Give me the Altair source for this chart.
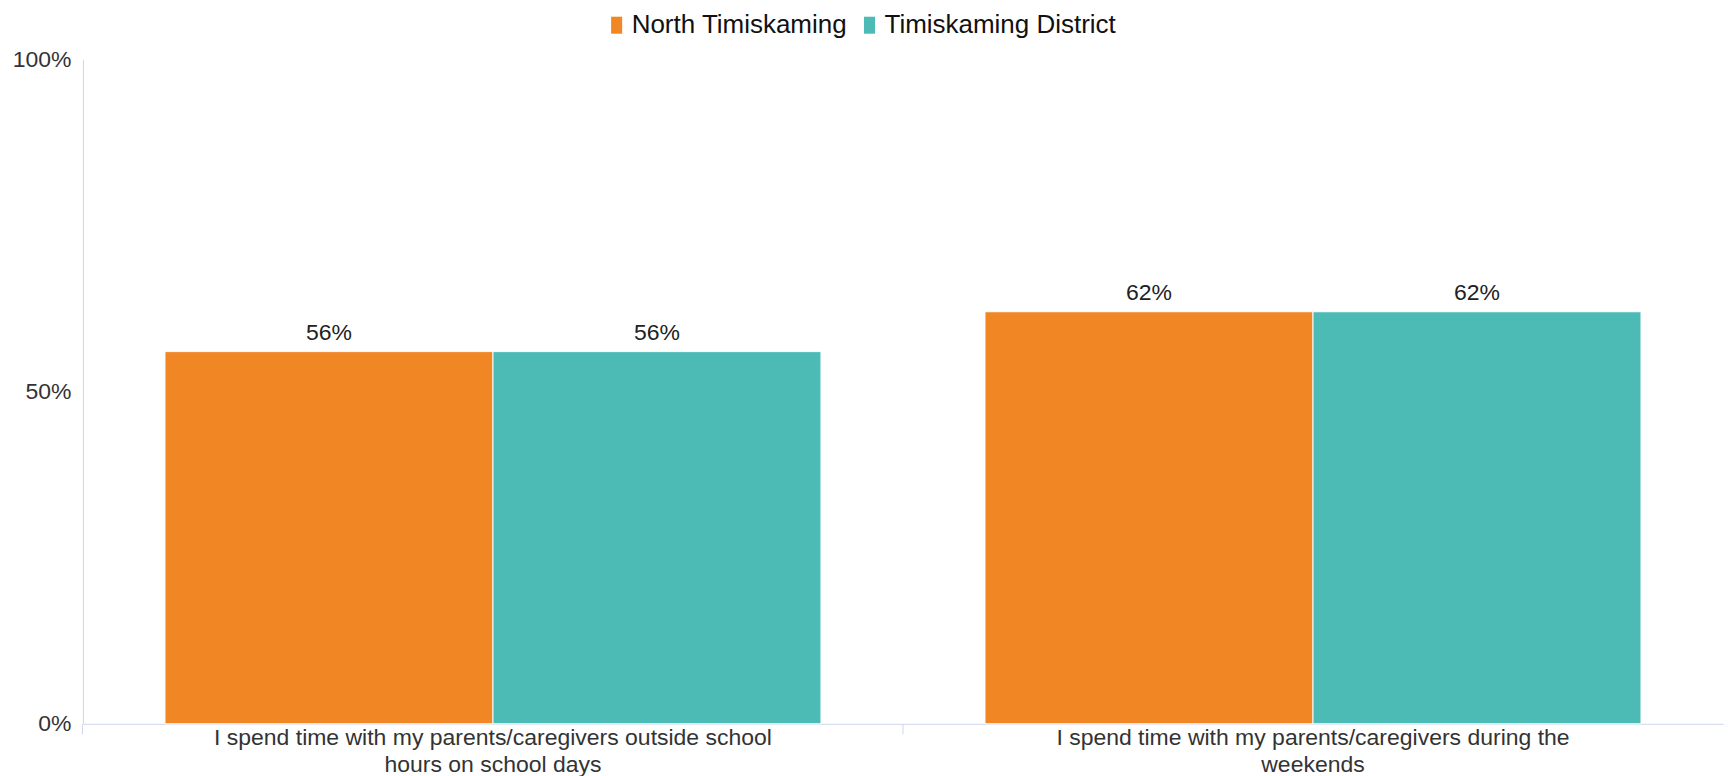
import altair as alt
import pandas as pd

categories = [
    "I spend time with my parents/caregivers outside school\nhours on school days",
    "I spend time with my parents/caregivers during the\nweekends",
]
series = ["North Timiskaming", "Timiskaming District"]
north = [0.56, 0.62]
district = [0.56, 0.62]
colors = ["#F08624", "#4DBBB5"]

rows = []
for i, c in enumerate(categories):
    rows.append({"cat": c, "series": series[0], "value": north[i]})
    rows.append({"cat": c, "series": series[1], "value": district[i]})
df = pd.DataFrame(rows)

FONT = "Liberation Sans"

x = alt.X(
    "cat:N",
    sort=categories,
    scale=alt.Scale(paddingInner=0.2, paddingOuter=0.1),
    axis=alt.Axis(
        title=None,
        labelAngle=0,
        labelExpr="split(datum.label, '\\n')",
        labelFontSize=23,
        labelLineHeight=27,
        labelColor="#333333",
        labelFont=FONT,
        labelPadding=-7,
        ticks=True,
        tickSize=10,
        tickColor="#ccd6eb",
        bandPosition=-0.125,
        domainColor="#ccd6eb",
        domainWidth=1,
        labelLimit=800,
    ),
)
xo = alt.XOffset("series:N", sort=series)
y = alt.Y(
    "value:Q",
    scale=alt.Scale(domain=[0, 1], nice=False),
    axis=alt.Axis(
        title=None,
        values=[0, 0.5, 1],
        format=".0%",
        grid=False,
        ticks=False,
        labelFontSize=23,
        labelColor="#333333",
        labelFont=FONT,
        labelPadding=12,
        domainColor="#ccd6eb",
        domainWidth=1,
    ),
)

color = alt.Color(
    "series:N",
    sort=series,
    scale=alt.Scale(domain=series, range=colors),
    legend=alt.Legend(
        title=None,
        orient="none",
        direction="horizontal",
        legendX=521,
        legendY=-47,
        symbolType="M-0.65,-1H0.65V1H-0.65Z",
        symbolSize=289,
        symbolStrokeWidth=0,
        labelFontSize=26,
        labelFont=FONT,
        labelColor="#111111",
        labelLimit=400,
        columnPadding=9,
        labelOffset=2,
    ),
)

bars = alt.Chart(df).mark_bar(stroke="#ffffff", strokeWidth=1).encode(
    x=x, xOffset=xo, y=y, color=color
)
labels = alt.Chart(df).mark_text(
    baseline="bottom", dy=-7, fontSize=23, font=FONT, color="#222222"
).encode(
    x=x, xOffset=xo, y=y, text=alt.Text("value:Q", format=".0%")
)

chart = (
    alt.layer(bars, labels)
    .properties(
        width=1641,
        height=665,
        background="#ffffff",
        autosize=alt.AutoSizeParams(type="none"),
        padding={"left": 75, "top": 51, "right": 2, "bottom": 52},
    )
    .configure_view(strokeWidth=0, stroke="transparent")
)

chart.save("out.html", embed_options={"renderer": "svg", "actions": False})
